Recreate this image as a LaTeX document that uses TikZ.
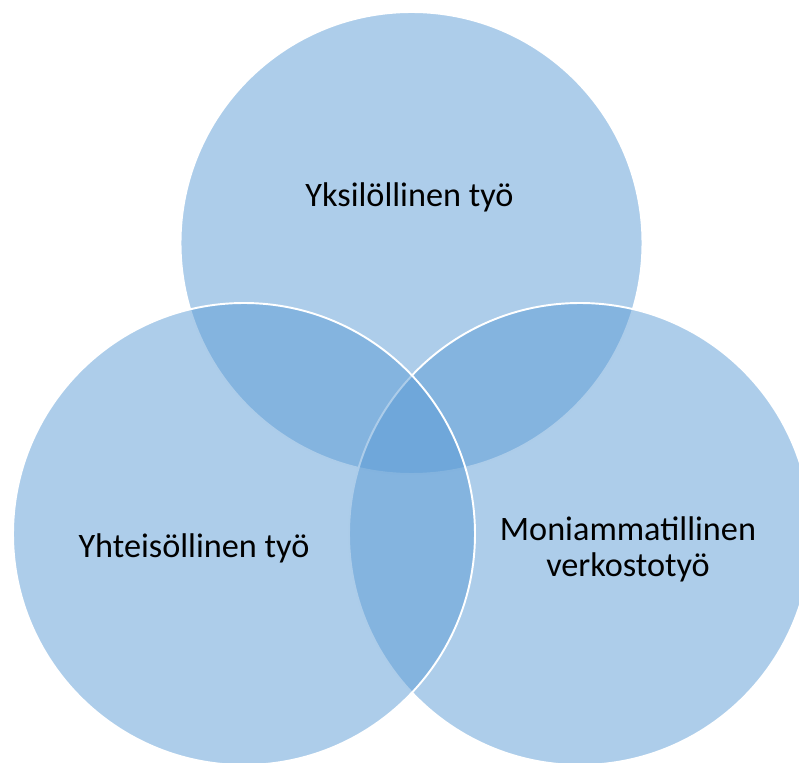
\documentclass[tikz,border=0pt]{standalone}
\usepackage{fontspec}
\setmainfont{Carlito}
\definecolor{vennblue}{HTML}{5B9BD5}

\begin{document}
\begin{tikzpicture}[x=0.02cm,y=-0.02cm,
        venn/.style={fill=vennblue, fill opacity=0.5, draw=white, line width=1.1pt},
        venntext/.style={font=\fontsize{19.5}{20.8}\selectfont, align=center, text=black, anchor=base, inner sep=0pt}]

        % Frame
        \clip (0,0) rectangle (799,763);

        %%% CIRCLES (top, bottom right, bottom left)
        \draw[venn] (411.5,243) circle (231);
        \draw[venn] (580,534) circle (231);
        \draw[venn] (244,534) circle (231);

        %%% LABELS
        \node[venntext] (yksi) at (409.5,206.7) {Yksilöllinen työ};
        \node[venntext] (yhteis) at (194,558) {Yhteisöllinen työ};
        % base of a two line node sits on its last line
        \node[venntext] (moni) at (628,576.7) {Moniammatillinen\\verkostotyö};

\end{tikzpicture}
\end{document}
